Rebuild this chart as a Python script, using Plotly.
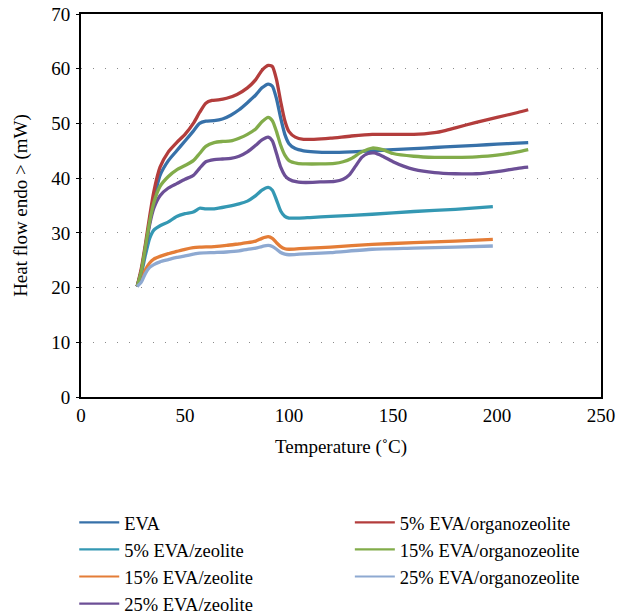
import plotly.graph_objects as go

# ---------------- data ----------------
eva_T = [27, 29, 31, 33, 35, 38, 42, 46, 50, 54, 57, 60, 64, 68, 72, 76, 80, 84, 87, 90, 92, 94, 96, 98, 100, 103, 107, 112, 120, 130, 140, 150, 160, 170, 180, 190, 200, 210, 215]
eva_v = [20.2, 23, 27.5, 32, 36, 40.5, 43.2, 45, 46.8, 48.6, 50, 50.4, 50.5, 50.8, 51.5, 52.5, 53.8, 55.2, 56.5, 57.2, 56.8, 54.5, 51, 48, 46.3, 45.4, 45, 44.8, 44.7, 44.8, 45, 45.2, 45.4, 45.6, 45.8, 46, 46.2, 46.4, 46.5]

z5_T = [27, 29, 31, 33, 35, 38, 42, 46, 50, 54, 57, 60, 64, 70, 76, 80, 84, 87, 90, 92, 94, 96, 98, 100, 105, 110, 120, 140, 160, 180, 198]
z5_v = [20.2, 22.5, 26, 29, 30.5, 31.3, 32, 33, 33.5, 33.8, 34.5, 34.4, 34.4, 34.8, 35.3, 35.8, 36.8, 37.8, 38.3, 37.8, 36, 34, 33, 32.7, 32.7, 32.8, 33, 33.4, 33.9, 34.3, 34.8]

z15_T = [27, 29, 31, 33, 35, 38, 42, 46, 50, 54, 57, 64, 70, 76, 80, 84, 87, 90, 92, 94, 96, 98, 100, 105, 110, 120, 140, 160, 180, 198]
z15_v = [20.2, 21.5, 23.3, 24.5, 25.2, 25.7, 26.2, 26.6, 27, 27.3, 27.4, 27.5, 27.7, 28, 28.2, 28.5, 29, 29.3, 29, 28.2, 27.5, 27.1, 27, 27.1, 27.2, 27.4, 27.9, 28.2, 28.5, 28.8]

z25_T = [27, 29, 31, 33, 35, 38, 42, 46, 50, 54, 57, 60, 64, 68, 72, 76, 80, 84, 87, 90, 92, 94, 96, 98, 100, 104, 108, 115, 122, 126, 129, 132, 135, 138, 141, 145, 150, 155, 160, 170, 180, 190, 200, 210, 215]
z25_v = [20.2, 23, 27, 31.5, 34.5, 36.8, 38.2, 39, 39.8, 40.5, 41.8, 43, 43.4, 43.5, 43.6, 44, 44.8, 46, 47, 47.5, 46.8, 44.5, 42, 40.5, 39.8, 39.3, 39.2, 39.3, 39.4, 39.8, 40.6, 42.2, 43.8, 44.5, 44.6, 44, 43, 42.2, 41.6, 41, 40.8, 40.8, 41.2, 41.8, 42]

o5_T = [27, 29, 31, 33, 35, 38, 42, 46, 50, 54, 57, 60, 63, 66, 70, 75, 80, 84, 87, 90, 92, 94, 96, 98, 100, 103, 107, 112, 120, 130, 140, 150, 160, 165, 170, 175, 180, 190, 200, 210, 215]
o5_v = [20.2, 23.5, 28, 33, 37.5, 42, 44.8, 46.5, 48, 50, 52, 53.7, 54.2, 54.3, 54.6, 55.3, 56.5, 58, 59.7, 60.6, 60.4, 58, 54, 50.5, 48.5, 47.5, 47.1, 47.1, 47.3, 47.7, 48, 48, 48, 48.1, 48.3, 48.7, 49.2, 50.2, 51.1, 52, 52.5]

o15_T = [27, 29, 31, 33, 35, 38, 42, 46, 50, 54, 57, 60, 64, 68, 72, 76, 80, 84, 87, 90, 92, 94, 96, 98, 100, 104, 108, 115, 122, 126, 130, 135, 140, 145, 150, 160, 170, 180, 190, 200, 210, 215]
o15_v = [20.2, 23, 27.5, 32, 35.5, 38.5, 40.3, 41.5, 42.3, 43.2, 44.5, 45.8, 46.5, 46.7, 46.8, 47.3, 48, 49, 50.3, 51.1, 50.5, 48.5, 46, 44.2, 43.2, 42.7, 42.6, 42.6, 42.7, 43, 43.6, 44.8, 45.5, 45.2, 44.5, 44, 43.8, 43.8, 43.9, 44.2, 44.8, 45.2]

o25_T = [27, 29, 31, 33, 35, 38, 42, 46, 50, 54, 57, 64, 70, 76, 80, 84, 87, 90, 92, 94, 96, 98, 100, 105, 110, 120, 140, 160, 180, 198]
o25_v = [20.2, 21, 22.6, 23.7, 24.2, 24.7, 25.1, 25.5, 25.8, 26.1, 26.3, 26.4, 26.5, 26.7, 27, 27.2, 27.5, 27.7, 27.5, 27, 26.4, 26.1, 26, 26.1, 26.2, 26.4, 27, 27.2, 27.4, 27.6]

names = ["EVA", "5% EVA/zeolite", "15% EVA/zeolite", "25% EVA/zeolite",
         "5% EVA/organozeolite", "15% EVA/organozeolite", "25% EVA/organozeolite"]
colors = ["#3771a9", "#3498b3", "#e47d37", "#6c4f96", "#b33d3c", "#82ac4a", "#8ea9d1"]
xs = [eva_T, z5_T, z15_T, z25_T, o5_T, o15_T, o25_T]
ys = [eva_v, z5_v, z15_v, z25_v, o5_v, o15_v, o25_v]
legend_ids = ["legend", "legend", "legend", "legend", "legend2", "legend2", "legend2"]

x_ticks = [0, 50, 100, 150, 200, 250]
y_ticks = [0, 10, 20, 30, 40, 50, 60, 70]

FONT = "Liberation Serif"
FS = 19

fig = go.Figure()
for n, c, x, y in zip(names, colors, xs, ys):
    fig.add_trace(go.Scatter(x=x, y=y, mode="lines", name=n, showlegend=False,
                             line=dict(color=c, width=3.3, shape="spline", smoothing=0.6)))
# legend entries (thin line samples, as in the reference)
for n, c, lg in zip(names, colors, legend_ids):
    fig.add_trace(go.Scatter(x=[None], y=[None], mode="lines", name=n, legend=lg,
                             line=dict(color=c, width=2.2)))

leg_common = dict(orientation="v", xanchor="left", yanchor="top", y=-0.279,
                  itemwidth=40, traceorder="normal", bgcolor="rgba(0,0,0,0)",
                  font=dict(family=FONT, size=18.5, color="black"))

# page body has an 8px margin, so the figure is 8px smaller each way
fig.update_layout(
    width=629, height=608,
    margin=dict(l=73, r=36, t=6, b=219, autoexpand=False),
    plot_bgcolor="white", paper_bgcolor="white",
    font=dict(family=FONT, size=FS, color="black"),
    showlegend=True,
    legend=dict(x=-0.013, **leg_common),
    legend2=dict(x=0.517, **leg_common),
)
fig.update_xaxes(range=[0, 250], tickvals=x_ticks, showgrid=False, zeroline=False,
                 showline=True, linecolor="black", linewidth=2, mirror=True,
                 ticks="", tickfont=dict(family=FONT, size=FS), ticklabeloverflow="allow",
                 title=dict(text="Temperature (˚C)", font=dict(family=FONT, size=FS), standoff=15))
fig.update_yaxes(range=[0, 70], tickvals=y_ticks, showgrid=True, gridcolor="#8a8a8a",
                 gridwidth=1.4, griddash="1.4px,10.6px", zeroline=False,
                 showline=True, linecolor="black", linewidth=2, mirror=True,
                 ticks="outside", ticklen=3, tickcolor="black", tickwidth=1,
                 ticklabelstandoff=2, ticklabeloverflow="allow",
                 tickfont=dict(family=FONT, size=FS),
                 title=dict(text="Heat flow endo > (mW)", font=dict(family=FONT, size=FS), standoff=19))

fig.write_html("out.html")
